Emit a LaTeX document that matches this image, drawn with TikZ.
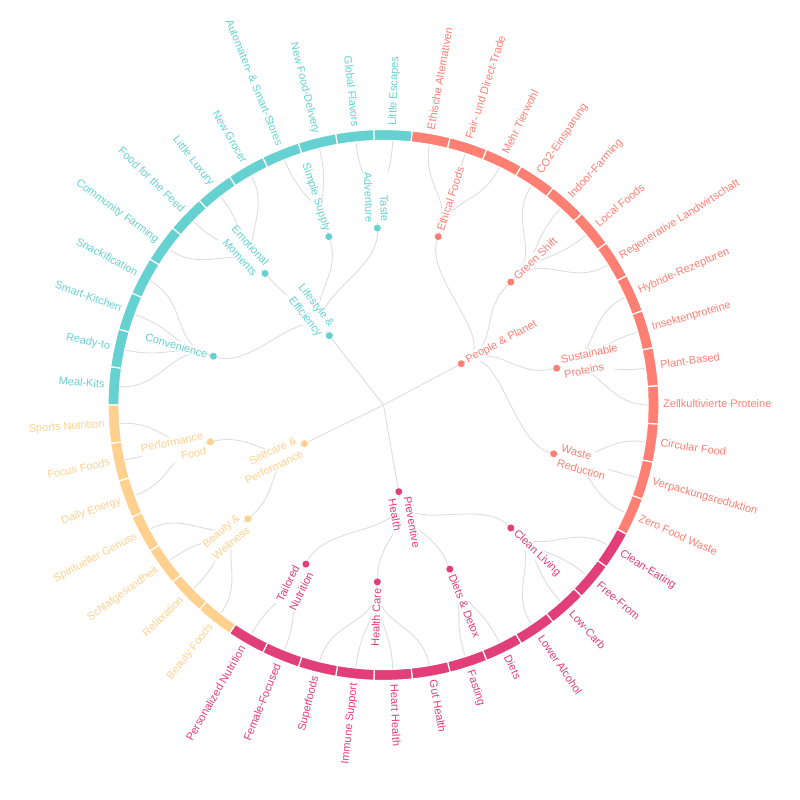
\documentclass[tikz,border=0pt]{standalone}
\usepackage{fontspec}
\setmainfont{Liberation Sans}
\definecolor{cy}{HTML}{66D1D1}
\definecolor{sa}{HTML}{FF7F73}
\definecolor{mg}{HTML}{E23E77}
\definecolor{pe}{HTML}{FFD08E}
\definecolor{lk}{HTML}{DDDDDD}
\pgfdeclarelayer{bg}
\pgfsetlayers{bg,main}
\tikzset{
  link/.style={draw=lk, line width=0.9pt},
  dotn/.style={circle, fill=#1, draw=none, inner sep=0pt, minimum size=7pt},
  ilabel/.style={text=#1, fill=white, inner sep=1pt},
  llabel/.style={text=#1, inner sep=0pt},
  seg/.style={fill=#1, draw=white, line width=1.2pt},
}
% #1 name, #2 angle, #3 radius, #4 style, #5 text, #6 anchor prefix
\newcommand\radtext[6]{%
  \pgfmathtruncatemacro\isleft{cos(#2)<0}%
  \ifnum\isleft=1
    \pgfmathsetmacro\rr{#2-180}%
    \node[#4, rotate=\rr, anchor=#6east, align=right] (#1) at (#2:#3) {#5};
  \else
    \node[#4, rotate=#2, anchor=#6west, align=left] (#1) at (#2:#3) {#5};
  \fi
}
% depth 1: name, angle, colour, label
\newcommand\topnode[4]{%
  \node[dotn=#3] (#1) at (#2:88) {};
  \begin{pgfonlayer}{bg}\draw[link] (root) -- (#1);\end{pgfonlayer}
  \radtext{#1t}{#2}{93}{ilabel=#3}{#4}{}
}
% depth 2: name, angle, parent, parent angle, colour, label
\newcommand\midnode[6]{%
  \node[dotn=#5] (#1) at (#2:177) {};
  \begin{pgfonlayer}{bg}\draw[link] (#3) .. controls (#4:132.5) and (#2:132.5) .. (#1);\end{pgfonlayer}
  \radtext{#1t}{#2}{182}{ilabel=#5}{#6}{}
}
% leaf: id, angle, parent, parent angle, colour, text
\newcommand\leaf[6]{%
  \coordinate (lf#1) at (#2:265);
  \begin{pgfonlayer}{bg}\draw[link] (#3) .. controls (#4:221) and (#2:221) .. (lf#1);\end{pgfonlayer}
  \pgfmathsetmacro\sa{#2-4}\pgfmathsetmacro\ea{#2+4}%
  \path[seg=#5] (\sa:264.5) arc[start angle=\sa, end angle=\ea, radius=264.5]
     -- (\ea:275.5) arc[start angle=\ea, end angle=\sa, radius=275.5] -- cycle;
  \radtext{lt#1}{#2}{279.5}{llabel=#5}{#6}{mid }
}
\begin{document}
\begin{tikzpicture}[x=1pt,y=1pt,font=\fontsize{11}{15.5}\selectfont]
\useasboundingbox (-383.5,-395) rectangle (416.5,405);
\coordinate (root) at (0,0);

\topnode{life}{128}{cy}{Lifestyle \&\\Efficiency}
\topnode{people}{28}{sa}{People \& Planet}
\topnode{prev}{280}{mg}{Preventive\\Health}
\topnode{self}{206}{pe}{Selfcare \&\\Performance}

\midnode{conv}{164}{life}{128}{cy}{Convenience}
\midnode{emo}{132}{life}{128}{cy}{Emotional\\Moments}
\midnode{simp}{108}{life}{128}{cy}{Simple Supply}
\midnode{taste}{92}{life}{128}{cy}{Taste\\Adventure}
\midnode{eth}{72}{people}{28}{sa}{Ethical Foods}
\midnode{green}{44}{people}{28}{sa}{Green Shift}
\midnode{sust}{12}{people}{28}{sa}{Sustainable\\Proteins}
\midnode{waste}{344}{people}{28}{sa}{Waste\\Reduction}
\midnode{tail}{244}{prev}{280}{mg}{Tailored\\Nutrition}
\midnode{hc}{268}{prev}{280}{mg}{Health Care}
\midnode{diet}{292}{prev}{280}{mg}{Diets \& Detox}
\midnode{clean}{316}{prev}{280}{mg}{Clean Living}
\midnode{perf}{192}{self}{206}{pe}{Performance\\Food}
\midnode{beau}{220}{self}{206}{pe}{Beauty \&\\Wellness}

\leaf{1}{176}{conv}{164}{cy}{Meal-Kits}
\leaf{2}{168}{conv}{164}{cy}{Ready-to}
\leaf{3}{160}{conv}{164}{cy}{Smart-Kitchen}
\leaf{4}{152}{conv}{164}{cy}{Snackification}
\leaf{5}{144}{emo}{132}{cy}{Community Farming}
\leaf{6}{136}{emo}{132}{cy}{Food for the Feed}
\leaf{7}{128}{emo}{132}{cy}{Little Luxury}
\leaf{8}{120}{emo}{132}{cy}{New Grocer}
\leaf{9}{112}{simp}{108}{cy}{Automaten- \& Smart-Stores}
\leaf{10}{104}{simp}{108}{cy}{New Food-Delivery}
\leaf{11}{96}{taste}{92}{cy}{Global Flavors}
\leaf{12}{88}{taste}{92}{cy}{Little Escapes}
\leaf{13}{80}{eth}{72}{sa}{Ethische Alternativen}
\leaf{14}{72}{eth}{72}{sa}{Fair- und Direct-Trade}
\leaf{15}{64}{eth}{72}{sa}{Mehr Tierwohl}
\leaf{16}{56}{green}{44}{sa}{CO2-Einsparung}
\leaf{17}{48}{green}{44}{sa}{Indoor-Farming}
\leaf{18}{40}{green}{44}{sa}{Local Foods}
\leaf{19}{32}{green}{44}{sa}{Regenerative Landwirtschaft}
\leaf{20}{24}{sust}{12}{sa}{Hybride-Rezepturen}
\leaf{21}{16}{sust}{12}{sa}{Insektenproteine}
\leaf{22}{8}{sust}{12}{sa}{Plant-Based}
\leaf{23}{0}{sust}{12}{sa}{Zellkultivierte Proteine}
\leaf{24}{352}{waste}{344}{sa}{Circular Food}
\leaf{25}{344}{waste}{344}{sa}{Verpackungsreduktion}
\leaf{26}{336}{waste}{344}{sa}{Zero Food Waste}
\leaf{27}{328}{clean}{316}{mg}{Clean-Eating}
\leaf{28}{320}{clean}{316}{mg}{Free-From}
\leaf{29}{312}{clean}{316}{mg}{Low-Carb}
\leaf{30}{304}{clean}{316}{mg}{Lower Alcohol}
\leaf{31}{296}{diet}{292}{mg}{Diets}
\leaf{32}{288}{diet}{292}{mg}{Fasting}
\leaf{33}{280}{hc}{268}{mg}{Gut Health}
\leaf{34}{272}{hc}{268}{mg}{Heart Health}
\leaf{35}{264}{hc}{268}{mg}{Immune Support}
\leaf{36}{256}{hc}{268}{mg}{Superfoods}
\leaf{37}{248}{tail}{244}{mg}{Female-Focused}
\leaf{38}{240}{tail}{244}{mg}{Personalized Nutrition}
\leaf{39}{232}{beau}{220}{pe}{Beauty Foods}
\leaf{40}{224}{beau}{220}{pe}{Relaxation}
\leaf{41}{216}{beau}{220}{pe}{Schlafgesundheit}
\leaf{42}{208}{beau}{220}{pe}{Spiritueller Genuss}
\leaf{43}{200}{perf}{192}{pe}{Daily Energy}
\leaf{44}{192}{perf}{192}{pe}{Focus Foods}
\leaf{45}{184}{perf}{192}{pe}{Sports Nutrition}
\end{tikzpicture}
\end{document}
